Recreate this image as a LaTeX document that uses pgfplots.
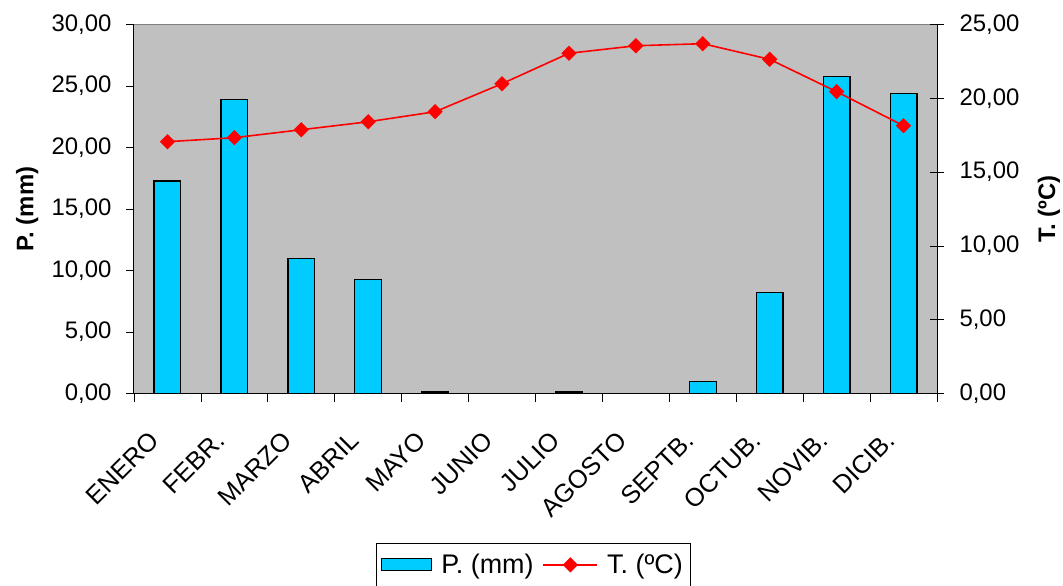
\documentclass[border=0pt]{standalone}
\usepackage{fontspec}
\setmainfont{Liberation Sans}
\usepackage{pgfplots}
\pgfplotsset{compat=1.18}
\definecolor{plotgray}{HTML}{C0C0C0}
\definecolor{barblue}{HTML}{00CCFF}
\newcommand\cf{\fontsize{24}{28}\selectfont}
\newcommand\xf{\fontsize{25.5}{29}\selectfont}
\newcommand\lf{\fontsize{27}{31}\selectfont}
\begin{document}
\begin{tikzpicture}
\useasboundingbox (-134bp,-192.5bp) rectangle (929bp,393.5bp);
\begin{axis}[
  at={(0,0)}, anchor=south west,
  scale only axis, width=803bp, height=369bp,
  xmin=-0.5, xmax=11.5, ymin=0, ymax=30,
  axis x line*=bottom, axis y line*=left,
  axis line style={black, line width=1bp},
  axis background/.style={fill=plotgray, draw=gray, line width=1bp},
  xtick={0,...,11},
  xticklabels={ENERO,FEBR.,MARZO,ABRIL,MAYO,JUNIO,JULIO,AGOSTO,SEPTB.,OCTUB.,NOVIB.,DICIB.},
  major x tick style={draw=none},
  minor xtick={-0.5,0.5,...,11.5},
  minor x tick style={black, line width=0.8bp},
  minor tick length=8bp,
  ytick={0,5,...,30},
  major tick length=8bp,
  y tick style={black, line width=0.8bp},
  tick align=outside,
  yticklabel shift=11bp,
  /pgf/number format/.cd, fixed, fixed zerofill, precision=2, use comma, assume math mode=true,
  /pgfplots/.cd,
  yticklabel style={font=\cf},
  xticklabel style={font=\xf, xshift=-20bp, yshift=-28bp, rotate=45, anchor=north east, inner sep=0pt},
  ylabel={\textbf{P. (mm)}},
  ylabel style={font=\cf, at={(axis description cs:-0.133,0.5)}, anchor=center, rotate=0},
  ybar, bar width=0.4,
]
\addplot[fill=barblue, draw=black, line width=1.2bp] coordinates {
(0,17.28) (1,23.9) (2,10.95) (3,9.3) (4,0.12) (6,0.12) (8,1.0) (9,8.2) (10,25.75) (11,24.4)};
\end{axis}
\begin{axis}[
  at={(0,0)}, anchor=south west,
  scale only axis, width=803bp, height=369bp,
  xmin=-0.5, xmax=11.5, ymin=0, ymax=25,
  axis x line=none, axis y line*=right,
  axis line style={black, line width=1bp},
  ytick={0,5,...,25},
  major tick length=14bp,
  y tick style={black, line width=0.8bp},
  tick align=center,
  yticklabel shift=12bp,
  /pgf/number format/.cd, fixed, fixed zerofill, precision=2, use comma, assume math mode=true,
  /pgfplots/.cd,
  yticklabel style={font=\cf},
  ylabel={\textbf{T. (ºC)}},
  ylabel style={font=\cf, at={(axis description cs:1.1395,0.5)}, anchor=center, rotate=0},
  legend image code/.code={\draw[mark repeat=2,mark phase=2,#1] plot coordinates {(0bp,0bp) (27bp,0bp) (54bp,0bp)};},
  legend style={at={(axis description cs:0.4975,-0.405)}, anchor=north, legend columns=-1,
    draw=black, line width=0.8bp, fill=white, font=\lf, inner xsep=5bp, inner ysep=8bp,
    /tikz/every even column/.append style={column sep=6bp},
    /tikz/every odd column/.append style={column sep=6bp},
    nodes={inner sep=3bp}},
]
\addlegendimage{legend image code/.code={\draw[fill=barblue, draw=black, line width=1.2bp] (0bp,-6bp) rectangle (50bp,6bp);}}
\addlegendentry{P. (mm)}
\addplot[red, line width=1.6bp, mark=square*, mark size=4.6bp, mark options={rotate=45, fill=red, draw=red}] coordinates {
(0,17.06) (1,17.33) (2,17.87) (3,18.41) (4,19.09) (5,20.99) (6,23.05) (7,23.56) (8,23.70) (9,22.64) (10,20.45) (11,18.14)};
\addlegendentry{T. (ºC)}
\end{axis}
\end{tikzpicture}
\end{document}
